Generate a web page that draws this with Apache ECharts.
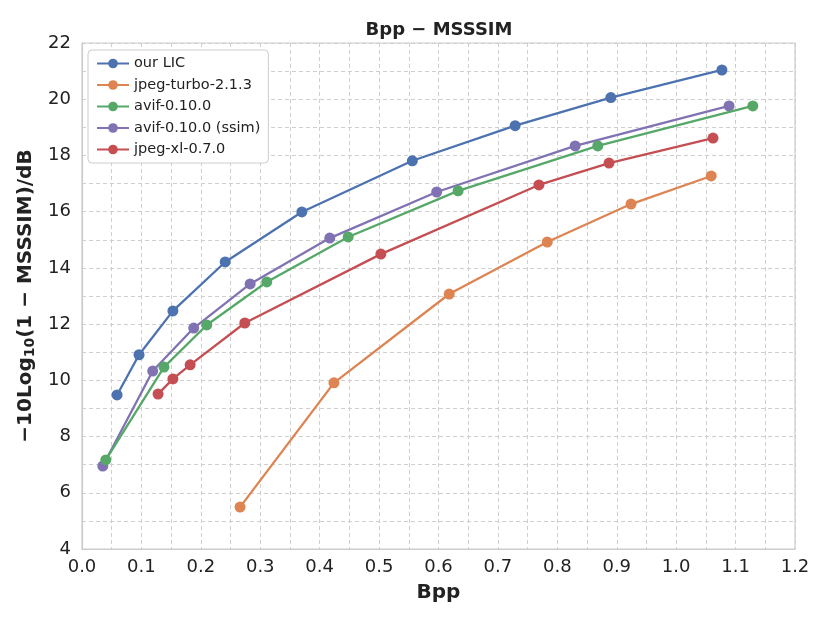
<!DOCTYPE html>
<html>
<head>
<meta charset="utf-8">
<script src="https://cdn.jsdelivr.net/npm/echarts@6/dist/echarts.min.js"></script>
<style>
html,body{margin:0;padding:0;background:#fff;}
#chart{width:830px;height:623px;}
</style>
</head>
<body>
<div id="chart"></div>
<script>
// values
var seriesNames = ['our LIC', 'jpeg-turbo-2.1.3', 'avif-0.10.0', 'avif-0.10.0 (ssim)', 'jpeg-xl-0.7.0'];
var colors = ['#4C72B0', '#DD8452', '#55A868', '#8172B3', '#C44E52'];

var licBpp = [0.059, 0.096, 0.153, 0.241, 0.370, 0.556, 0.729, 0.890, 1.077];
var licVal = [9.48, 10.91, 12.47, 14.21, 15.99, 17.81, 19.06, 20.06, 21.04];

var jpegBpp = [0.266, 0.424, 0.618, 0.783, 0.924, 1.059];
var jpegVal = [5.49, 9.91, 13.07, 14.92, 16.27, 17.27];

var avifBpp = [0.040, 0.138, 0.210, 0.311, 0.448, 0.633, 0.868, 1.129];
var avifVal = [7.17, 10.47, 11.97, 13.50, 15.10, 16.74, 18.34, 19.76];

var avifSsimBpp = [0.035, 0.119, 0.188, 0.283, 0.417, 0.597, 0.830, 1.089];
var avifSsimVal = [6.95, 10.33, 11.86, 13.43, 15.06, 16.70, 18.34, 19.76];

var jxlBpp = [0.128, 0.153, 0.182, 0.274, 0.503, 0.769, 0.887, 1.062];
var jxlVal = [9.51, 10.05, 10.55, 12.04, 14.49, 16.95, 17.73, 18.62];

var allBpp = [licBpp, jpegBpp, avifBpp, avifSsimBpp, jxlBpp];
var allVal = [licVal, jpegVal, avifVal, avifSsimVal, jxlVal];

var font = 'DejaVu Sans';
var gridLine = {show: true, lineStyle: {color: '#cfcfcf', type: [4, 3], width: 1}};

function pairs(xs, ys) {
    var out = [];
    for (var i = 0; i < xs.length; i++) out.push([xs[i], ys[i]]);
    return out;
}

var series = seriesNames.map(function (name, i) {
    return {
        name: name,
        type: 'line',
        data: pairs(allBpp[i], allVal[i]),
        symbol: 'circle',
        symbolSize: 11,
        lineStyle: {width: 2.3, color: colors[i]},
        itemStyle: {color: colors[i]},
        emphasis: {disabled: true},
        z: 10 - i
    };
});

var chart = echarts.init(document.getElementById('chart'));
chart.setOption({
    animation: false,
    backgroundColor: '#fff',
    title: {
        text: 'Bpp − MSSSIM',
        left: 434, top: 16, textAlign: 'center',
        textStyle: {fontFamily: font, fontSize: 18, fontWeight: 'bold', color: '#222'}
    },
    legend: {
        left: 88, top: 50, orient: 'vertical',
        padding: [6, 8, 6, 8],
        itemWidth: 32, itemHeight: 12, itemGap: 6.5,
        borderColor: '#cccccc', borderWidth: 1, borderRadius: 4,
        backgroundColor: '#fff',
        textStyle: {fontFamily: font, fontSize: 14.5, color: '#222'},
        data: seriesNames
    },
    grid: {left: 82, right: 35, top: 43, bottom: 74, show: true, borderColor: '#cccccc', borderWidth: 1.2},
    xAxis: {
        type: 'value', min: 0, max: 1.2, interval: 0.1,
        name: 'Bpp', nameLocation: 'middle', nameGap: 34,
        nameTextStyle: {fontFamily: font, fontSize: 20, fontWeight: 'bold', color: '#222'},
        axisLine: {show: true, lineStyle: {color: '#cccccc', width: 1.2}},
        axisTick: {show: false},
        axisLabel: {fontFamily: font, fontSize: 18, color: '#222', margin: 9,
            formatter: function (v) { return v.toFixed(1); }},
        splitLine: gridLine,
        minorTick: {show: false, splitNumber: 2},
        minorSplitLine: gridLine
    },
    yAxis: {
        type: 'value', min: 4, max: 22, interval: 2,
        name: '{b|−10Log}{s|10}{b|(1 − MSSSIM)/dB}',
        nameLocation: 'middle', nameGap: 42, nameRotate: 90,
        nameTextStyle: {
            rich: {
                b: {fontFamily: font, fontSize: 20, fontWeight: 'bold', color: '#222'},
                s: {fontFamily: font, fontSize: 14, fontWeight: 'bold', color: '#222', padding: [8, 0, 0, 0]}
            }
        },
        axisLine: {show: true, lineStyle: {color: '#cccccc', width: 1.2}},
        axisTick: {show: false},
        axisLabel: {fontFamily: font, fontSize: 18, color: '#222', margin: 11},
        splitLine: gridLine,
        minorTick: {show: false, splitNumber: 2},
        minorSplitLine: gridLine
    },
    series: series
});
</script>
</body>
</html>
